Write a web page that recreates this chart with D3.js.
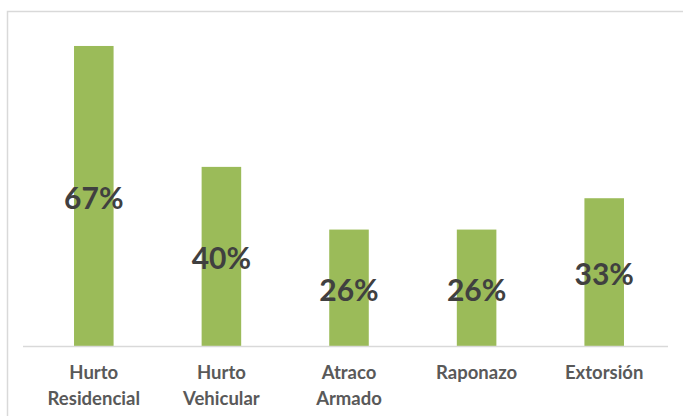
<!DOCTYPE html>
<html>
<head>
<meta charset="utf-8">
<script src="https://cdn.jsdelivr.net/npm/d3@7"></script>
<style>
  body { margin: 0; background: #fff; }
  svg { display: block; }
</style>
</head>
<body>
<script>
const categories = ['Hurto Residencial', 'Hurto Vehicular', 'Atraco Armado', 'Raponazo', 'Extorsión'];
const labelLines = [['Hurto', 'Residencial'], ['Hurto', 'Vehicular'], ['Atraco', 'Armado'], ['Raponazo'], ['Extorsión']];
const values = [67, 40, 26, 26, 33];

const width = 683;
const height = 416;
const baseY = 346;

const svg = d3.select('body')
    .append('svg')
    .attr('width', width)
    .attr('height', height);

// chart frame (cut off at right and bottom like the source)
svg.append('rect')
    .attr('x', 7.5)
    .attr('y', 11.5)
    .attr('width', 720)
    .attr('height', 460)
    .attr('fill', '#fff')
    .attr('stroke', '#d9d9d9')
    .attr('stroke-width', 1.5);

const x = d3.scaleBand()
    .domain(categories)
    .range([30, 668]);

const y = d3.scaleLinear()
    .domain([0, 70])
    .range([baseY, baseY - 70 * 4.478]);

const barW = x.bandwidth() * 0.31;

// bars
svg.selectAll('rect.bar')
    .data(categories)
    .enter()
    .append('rect')
    .classed('bar', true)
    .attr('x', d => x(d) + x.bandwidth() / 2 - barW / 2)
    .attr('y', (d, i) => y(values[i]))
    .attr('width', barW)
    .attr('height', (d, i) => y(0) - y(values[i]))
    .attr('fill', '#9bbb59');

// baseline
svg.append('line')
    .attr('x1', 23)
    .attr('x2', 668)
    .attr('y1', baseY + 0.5)
    .attr('y2', baseY + 0.5)
    .attr('stroke', '#d9d9d9')
    .attr('stroke-width', 1.5);

// value labels in the middle of each bar
svg.selectAll('text.val')
    .data(categories)
    .enter()
    .append('text')
    .classed('val', true)
    .attr('x', d => x(d) + x.bandwidth() / 2)
    .attr('y', (d, i) => (y(values[i]) + y(0)) / 2 + 13)
    .attr('text-anchor', 'middle')
    .style('font-family', 'Lato, "Open Sans", sans-serif')
    .style('font-weight', 'bold')
    .style('font-size', '30px')
    .style('fill', '#404040')
    .text((d, i) => values[i] + '%');

// category labels
const cat = svg.selectAll('text.cat')
    .data(categories)
    .enter()
    .append('text')
    .classed('cat', true)
    .attr('text-anchor', 'middle')
    .style('font-family', 'Lato, "Open Sans", sans-serif')
    .style('font-weight', 'bold')
    .style('font-size', '18.5px')
    .style('fill', '#595959');

cat.selectAll('tspan')
    .data((d, i) => labelLines[i].map(t => ({ t, cx: x(d) + x.bandwidth() / 2 })))
    .enter()
    .append('tspan')
    .attr('x', d => d.cx)
    .attr('y', (d, j) => 379 + j * 25.5)
    .text(d => d.t);
</script>
</body>
</html>
